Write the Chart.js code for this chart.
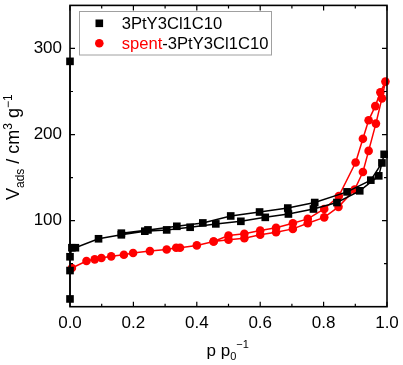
<!DOCTYPE html>
<html>
<head>
<meta charset="utf-8">
<script src="https://cdn.jsdelivr.net/npm/chart.js@4.4.0/dist/chart.umd.min.js"></script>
<style>
html, body { margin: 0; padding: 0; background: #fff; }
</style>
</head>
<body>
<canvas id="iso" width="403" height="365"></canvas>
<script>
// 3PtY3Cl1C10 : adsorption then desorption branch
const fresh_p = [0, 0, 0, 0, 0.006, 0.017, 0.09, 0.162, 0.236, 0.305, 0.379, 0.46, 0.539, 0.616, 0.689, 0.768, 0.842, 0.914, 0.974, 0.991,
                 0.984, 0.949, 0.874, 0.772, 0.687, 0.598, 0.507, 0.419, 0.337, 0.246, 0.162];
const fresh_v = [285, 9, 42, 58, 68.5, 68.5, 78.9, 83.5, 87.7, 89.2, 92.3, 96.2, 99.2, 103.8, 107.7, 113.5, 121, 134.6, 152, 177,
                 167, 147, 133.4, 121, 114.6, 110, 105.4, 97.3, 93.4, 89.2, 85.4];
// spent-3PtY3Cl1C10
const spent_p = [0.006, 0.052, 0.078, 0.099, 0.13, 0.17, 0.199, 0.252, 0.305, 0.335, 0.347, 0.4, 0.453, 0.5, 0.55, 0.6, 0.65, 0.703, 0.75, 0.802, 0.847, 0.898, 0.924, 0.942, 0.965, 0.984, 0.995,
                 0.979, 0.963, 0.942, 0.924, 0.901, 0.848, 0.802, 0.75, 0.703, 0.65, 0.6, 0.55, 0.5, 0.453];
const spent_v = [45, 53, 55, 56.5, 58.5, 60.4, 62.3, 64.6, 66.5, 68.5, 68.5, 71.2, 75.8, 77.7, 79.6, 83.5, 86.5, 90.4, 96.9, 103.8, 116, 136, 156.5, 181, 212.7, 242, 261.5,
                 249, 233, 216.5, 195, 167.5, 128.5, 113.5, 102, 96.9, 91.6, 88.5, 84.7, 82.7, 75.8];

const x_ticks = [0, 0.2, 0.4, 0.6, 0.8, 1.0];
const x_minor = [0.1, 0.3, 0.5, 0.7, 0.9];
const y_ticks = [100, 200, 300];
const y_minor = [50, 150, 250];

const FONT = "'Liberation Sans', Arial, sans-serif";

function toPoints(xs, ys) {
  return xs.map((x, i) => ({ x: x, y: ys[i] }));
}

// draws text pieces one after another: [text, size, dy, color]
function drawRuns(ctx, runs, x, y) {
  runs.forEach((r) => {
    ctx.font = r[1] + "px " + FONT;
    ctx.fillStyle = r[3] || "#000";
    ctx.fillText(r[0], x, y + r[2]);
    x += ctx.measureText(r[0]).width;
  });
}

function drawFrame(chart) {
  const c = chart.ctx;
  const a = chart.chartArea;
  const sx = chart.scales.x;
  const sy = chart.scales.y;
  c.save();
  c.strokeStyle = "#000";
  c.lineWidth = 1.6;
  c.strokeRect(a.left, a.top, a.right - a.left, a.bottom - a.top);
  c.lineWidth = 1.2;
  c.beginPath();
  const tx = (v, len) => {
    const px = sx.getPixelForValue(v);
    c.moveTo(px, a.bottom); c.lineTo(px, a.bottom - len);
    c.moveTo(px, a.top); c.lineTo(px, a.top + len);
  };
  const ty = (v, len) => {
    const py = sy.getPixelForValue(v);
    c.moveTo(a.left, py); c.lineTo(a.left + len, py);
    c.moveTo(a.right, py); c.lineTo(a.right - len, py);
  };
  x_ticks.forEach((v) => tx(v, 5));
  x_minor.forEach((v) => tx(v, 3));
  y_ticks.forEach((v) => ty(v, 5));
  y_minor.forEach((v) => ty(v, 3));
  c.stroke();
  c.restore();
}

const plugin_marco = {
  id: "marco",
  afterDraw: (chart) => {
    drawFrame(chart);
    const c = chart.ctx;
    c.save();
    c.textBaseline = "alphabetic";
    c.textAlign = "left";

    // legend
    c.strokeStyle = "#a0a0a0";
    c.lineWidth = 1;
    c.strokeRect(79.5, 11.5, 192, 43.5);
    c.fillStyle = "#000";
    c.fillRect(99.3 - 3.8, 23.3 - 3.8, 7.6, 7.6);
    c.fillStyle = "#ff0000";
    c.beginPath();
    c.arc(99.3, 43.3, 4.3, 0, Math.PI * 2);
    c.fill();
    drawRuns(c, [["3PtY3Cl1C10", 16.6, 0]], 121.7, 28.8);
    drawRuns(c, [["spent", 16.6, 0, "#ff0000"], ["-3PtY3Cl1C10", 16.6, 0]], 121.7, 49.4);

    // x title
    drawRuns(c, [["p p", 17, 0], ["0", 11, 4], ["\u22121", 11, -8]], 206.5, 356);

    // y title
    c.translate(18.5, 200);
    c.rotate(-Math.PI / 2);
    drawRuns(c, [["V", 18, 0], ["ads", 12, 5], [" / cm", 18, 0], ["3", 12, -7], [" g", 18, 0], ["\u22121", 12, -7]], 0, 0);
    c.restore();
  },
};

const ctx = document.getElementById("iso").getContext("2d");
const chart_iso = new Chart(ctx, {
  type: "scatter",
  data: {
    datasets: [
      {
        label: "3PtY3Cl1C10",
        data: toPoints(fresh_p, fresh_v),
        showLine: true,
        borderColor: "#000",
        backgroundColor: "#000",
        borderWidth: 1.5,
        pointStyle: "rect",
        pointRadius: 5.4,
        pointBorderWidth: 0,
        clip: false,
      },
      {
        label: "spent-3PtY3Cl1C10",
        data: toPoints(spent_p, spent_v),
        showLine: true,
        borderColor: "#ff0000",
        backgroundColor: "#ff0000",
        borderWidth: 1.5,
        pointStyle: "circle",
        pointRadius: 4.3,
        pointBorderWidth: 0,
        clip: false,
      },
    ],
  },
  options: {
    responsive: false,
    animation: false,
    layout: { padding: { top: 4, right: 16, left: 0, bottom: 0 } },
    plugins: {
      legend: { display: false },
      tooltip: { enabled: false },
    },
    scales: {
      x: {
        type: "linear",
        min: 0,
        max: 1,
        grid: { display: false, drawTicks: false },
        border: { display: false },
        afterBuildTicks: (s) => { s.ticks = x_ticks.map((v) => ({ value: v })); },
        afterFit: (s) => { s.height = 58.3; s.paddingLeft = 0; s.paddingRight = 0; },
        ticks: {
          autoSkip: false,
          maxRotation: 0,
          padding: 6,
          color: "#000",
          font: { family: FONT, size: 17 },
          callback: (v) => Number(v).toFixed(1),
        },
      },
      y: {
        type: "linear",
        min: 0,
        max: 350,
        grid: { display: false, drawTicks: false },
        border: { display: false },
        afterBuildTicks: (s) => { s.ticks = y_ticks.map((v) => ({ value: v })); },
        afterFit: (s) => { s.width = 70; s.paddingTop = 0; s.paddingBottom = 0; },
        ticks: {
          padding: 8,
          color: "#000",
          font: { family: FONT, size: 17 },
        },
      },
    },
  },
  plugins: [plugin_marco],
});
</script>
</body>
</html>
